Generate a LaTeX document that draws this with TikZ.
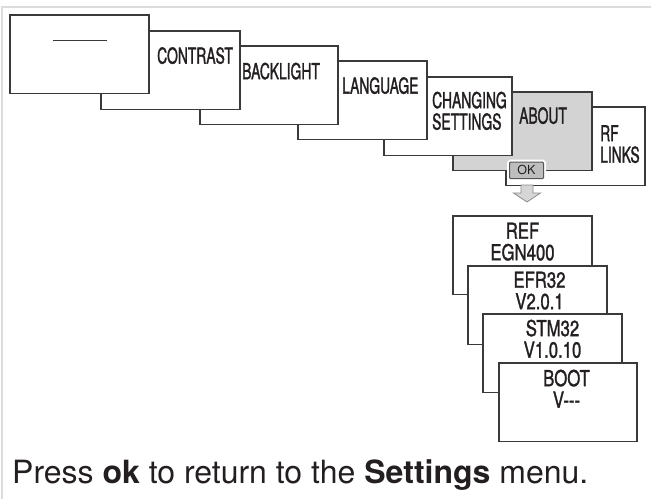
\documentclass[tikz,border=0pt]{standalone}
\usepackage{fontspec}
\setmainfont{TeX Gyre Heros}
\newfontfamily\condfont[FakeStretch=0.63,FakeBold=1.3]{TeX Gyre Heros}
\newfontfamily\infofont[FakeStretch=0.76,FakeBold=1.3]{TeX Gyre Heros}
\usepackage{tikz}
\usetikzlibrary{positioning}
\definecolor{boxline}{HTML}{3A3A3A}
\definecolor{aboutgray}{HTML}{D3D3D3}
\definecolor{okgray}{HTML}{BEBEBE}
\definecolor{okline}{HTML}{555555}
\definecolor{framegray}{HTML}{DCDCDC}
\definecolor{arrowfill}{HTML}{D6D6D6}
\definecolor{arrowline}{HTML}{8A8A8A}
\definecolor{textcol}{HTML}{231F20}

\begin{document}
\begin{tikzpicture}[x=1pt,y=-1pt,
  menubox/.style={draw=boxline,line width=1.3pt,anchor=north west,inner sep=0pt,outer sep=0pt,minimum height=78.5pt},
  menulabel/.style={anchor=north west,inner sep=0pt,font=\condfont\fontsize{22}{21.5}\selectfont,text=textcol,align=left},
  infolabel/.style={anchor=north,inner sep=0pt,font=\infofont\fontsize{22}{21.5}\selectfont,text=textcol,align=center},
  okbtn/.style={draw=okline,fill=okgray,line width=1pt,rounded corners=1pt,minimum width=34pt,minimum height=16.5pt,inner sep=0pt,
    font=\fontsize{12.5}{13}\selectfont,text=textcol,preaction={draw=white,line width=5pt}}]
  \useasboundingbox (0,0) rectangle (651,499);
  \draw[framegray,line width=2pt] (651,7) -- (2,7) -- (2,499);

  \foreach \n/\x/\y/\w/\c in {rf/506/107/139/white,about/453/92/139/aboutgray,changing/384/77/128/white,
      language/298/61/129/white,backlight/200/46/138/white,contrast/101/31/139/white,blank/10/15/139/white}
    \node[menubox,fill=\c,minimum width=\w pt] (\n) at (\x,\y) {};
  \draw[boxline,line width=1.5pt] ([xshift=-27pt,yshift=-25.5pt]blank.north) -- ++(54,0);

  \node[menulabel] (contrastlbl) at (157,47) {CONTRAST};
  \node[menulabel] (backlightlbl) at (242,62.5) {BACKLIGHT};
  \node[menulabel] (languagelbl) at (342,77) {LANGUAGE};
  \node[menulabel] (changinglbl) at (432,91.5) {CHANGING\\SETTINGS};
  \node[menulabel] (aboutlbl) at (519,107) {ABOUT};
  \node[menulabel] (rflbl) at (600,125) {RF\\LINKS};

  \node[okbtn] (ok) at (526.5,170.3) {OK};
  \draw[fill=arrowfill,draw=arrowline,line width=0.8pt] (521,185) -- (533,185) -- (533,193) -- (540.5,193)
    -- (527,202) -- (513.5,193) -- (521,193) -- cycle;

  \foreach \n/\x/\y/\w in {ref/453/216/139,efr/468/266/139,stm/483/314/139,boot/499/363/138}
    \node[menubox,fill=white,minimum width=\w pt] (\n) at (\x,\y) {};
  \node[infolabel] (reflbl) at ([yshift=-6.5pt]ref.north) {REF\\EGN400};
  \node[infolabel] (efrlbl) at ([xshift=2pt,yshift=-5.5pt]efr.north) {EFR32\\V2.0.1};
  \node[infolabel] (stmlbl) at ([yshift=-5.5pt]stm.north) {STM32\\V1.0.10};
  \node[infolabel] (bootlbl) at ([xshift=-1.5pt,yshift=-6.5pt]boot.north) {BOOT\\V-{}-{}-};

  \node[anchor=base west,inner sep=0pt,font=\fontsize{32}{34}\selectfont,text=textcol] (note) at (12,483)
    {Press \textbf{ok} to return to the \textbf{Settings} menu.};
\end{tikzpicture}
\end{document}
